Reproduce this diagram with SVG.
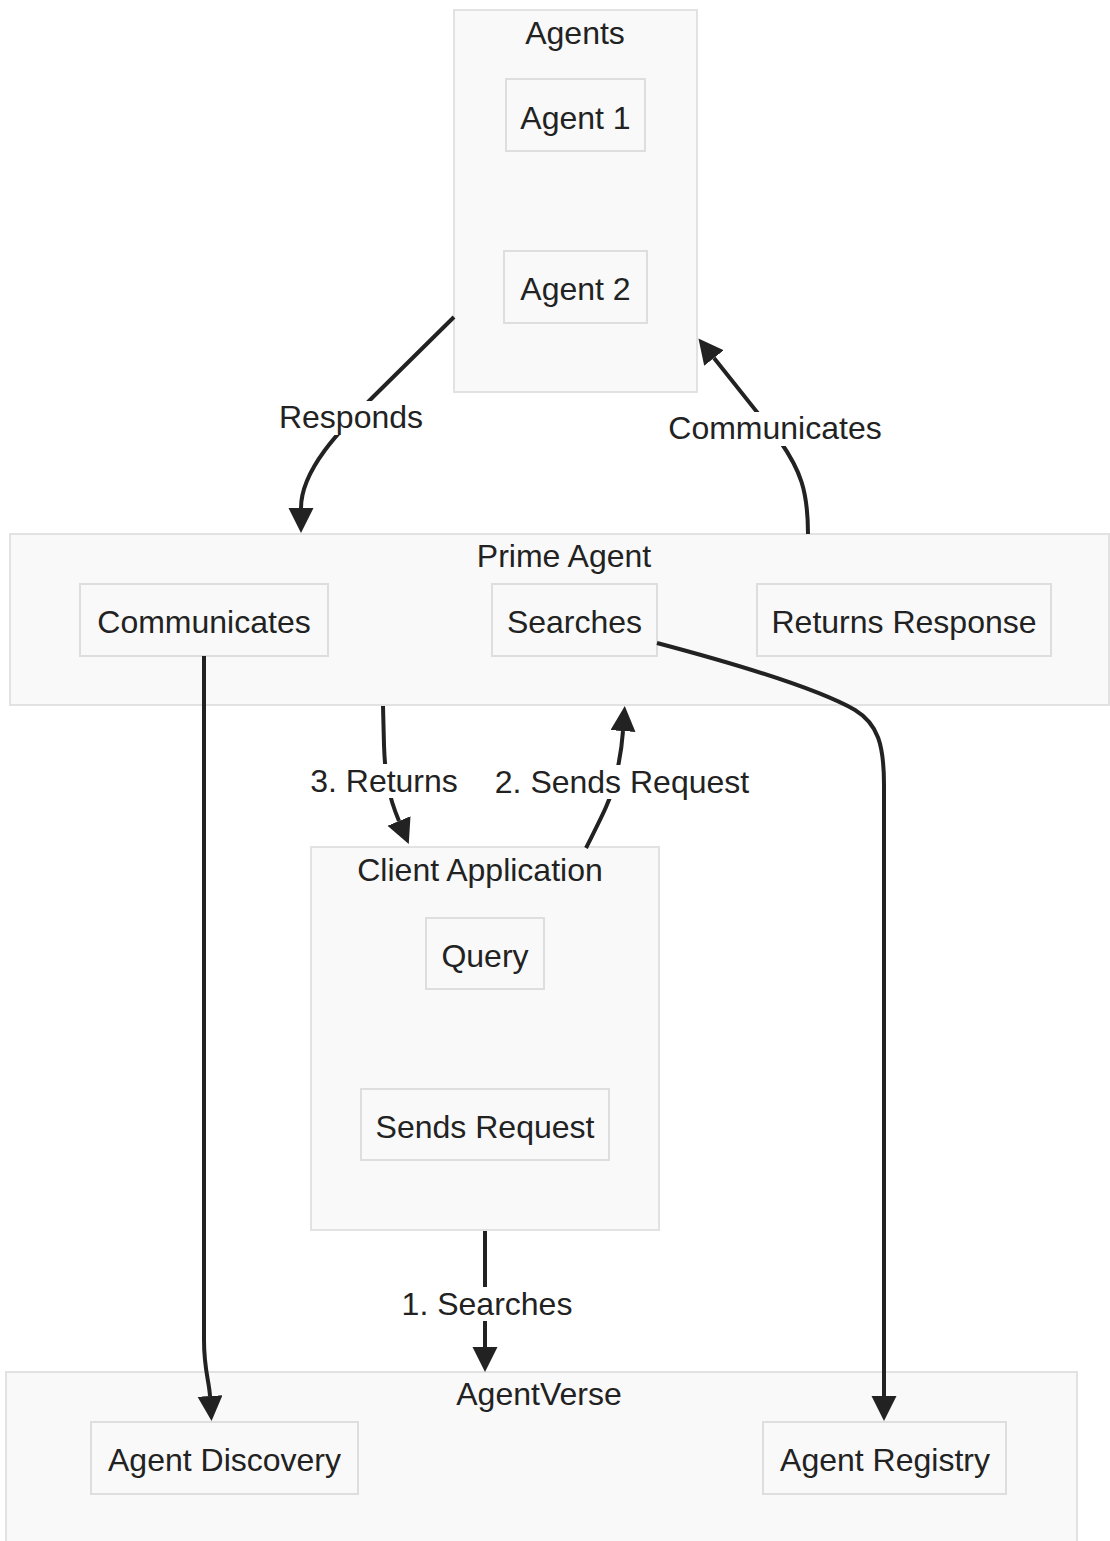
<svg xmlns="http://www.w3.org/2000/svg" width="1110" height="1541" viewBox="0 0 1110 1541">
  <style>
    .cluster { fill: #f9f9f9; stroke: #e2e2e2; stroke-width: 2; }
    .node rect { fill: #f9f9f9; stroke: #dedede; stroke-width: 2; }
    text { font-family: "Liberation Sans", Arial, sans-serif; font-size: 32px; fill: #222; text-anchor: middle; }
    .edge { fill: none; stroke: #222; stroke-width: 4; marker-end: url(#arrow); }
    .lbl-bg { fill: #ffffff; }
  </style>
  <defs>
    <marker id="arrow" markerUnits="userSpaceOnUse" markerWidth="26" markerHeight="26" refX="0" refY="12.5" orient="auto">
      <path d="M0,0 L25,12.5 L0,25 z" fill="#222"/>
    </marker>
  </defs>
  <rect width="1110" height="1541" fill="#ffffff"/>

  <!-- clusters -->
  <g id="cluster-agents">
    <rect class="cluster" x="454" y="10" width="243" height="382"/>
    <text x="575" y="44">Agents</text>
  </g>
  <g id="cluster-prime">
    <rect class="cluster" x="10" y="534" width="1099" height="171"/>
    <text x="564" y="567">Prime Agent</text>
  </g>
  <g id="cluster-client">
    <rect class="cluster" x="311" y="847" width="348" height="383"/>
    <text x="480" y="881">Client Application</text>
  </g>
  <g id="cluster-agentverse">
    <rect class="cluster" x="6" y="1372" width="1071" height="180"/>
    <text x="539" y="1405">AgentVerse</text>
  </g>

  <!-- nodes -->
  <g id="agent1" class="node">
    <rect x="506" y="79" width="139" height="72"/>
    <text x="575.5" y="129">Agent 1</text>
  </g>
  <g id="agent2" class="node">
    <rect x="504" y="251" width="143" height="72"/>
    <text x="575.5" y="300">Agent 2</text>
  </g>
  <g id="prime-communicates" class="node">
    <rect x="80" y="584" width="248" height="72"/>
    <text x="204" y="633">Communicates</text>
  </g>
  <g id="prime-searches" class="node">
    <rect x="492" y="584" width="165" height="72"/>
    <text x="574.5" y="633">Searches</text>
  </g>
  <g id="prime-returns" class="node">
    <rect x="757" y="584" width="294" height="72"/>
    <text x="904" y="633">Returns Response</text>
  </g>
  <g id="client-query" class="node">
    <rect x="426" y="918" width="118" height="71"/>
    <text x="485" y="967">Query</text>
  </g>
  <g id="client-sends" class="node">
    <rect x="361" y="1089" width="248" height="71"/>
    <text x="485" y="1138">Sends Request</text>
  </g>
  <g id="agent-discovery" class="node">
    <rect x="91" y="1422" width="267" height="72"/>
    <text x="224.5" y="1471">Agent Discovery</text>
  </g>
  <g id="agent-registry" class="node">
    <rect x="763" y="1422" width="243" height="72"/>
    <text x="885" y="1471">Agent Registry</text>
  </g>

  <!-- connectors -->
  <g id="edges">
    <path class="edge" d="M454,317 L372,398 C340,430 301,470 301,508"/>
    <path class="edge" d="M808,534 C808,490 800,470 780,441 L714,358"/>
    <path class="edge" d="M204,656 L204,1340 C204,1370 209,1380 210,1396"/>
    <path class="edge" d="M657,643 C740,665 820,690 855,710 C878,724 884,745 884,785 L884,1396"/>
    <path class="edge" d="M383,706 L384,745 C385,775 388,795 399,821"/>
    <path class="edge" d="M586,848 C600,820 611,800 615,780 C620,760 622,745 623,731"/>
    <path class="edge" d="M485,1231 L485,1347"/>

    <!-- edge labels -->
    <g id="label-responds">
      <rect class="lbl-bg" x="279" y="401" width="144" height="34"/>
      <text x="351" y="428">Responds</text>
    </g>
    <g id="label-communicates">
      <rect class="lbl-bg" x="668" y="412" width="214" height="34"/>
      <text x="775" y="439">Communicates</text>
    </g>
    <g id="label-returns">
      <rect class="lbl-bg" x="310" y="764" width="148" height="34"/>
      <text x="384" y="792">3. Returns</text>
    </g>
    <g id="label-sends">
      <rect class="lbl-bg" x="494" y="765" width="256" height="34"/>
      <text x="622" y="793">2. Sends Request</text>
    </g>
    <g id="label-searches">
      <rect class="lbl-bg" x="402" y="1287" width="170" height="34"/>
      <text x="487" y="1315">1. Searches</text>
    </g>
  </g>
</svg>
